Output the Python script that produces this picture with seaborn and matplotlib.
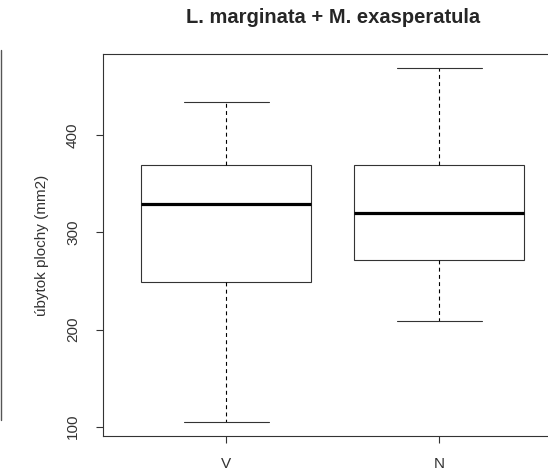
import pandas as pd
import numpy as np
import seaborn as sns
import matplotlib.pyplot as plt
from matplotlib.lines import Line2D

# five-number summaries (min, Q1, median, Q3, max)
groups = ['V', 'N']
values_V = [105, 249, 329, 369, 434]
values_N = [209, 272, 320, 369, 469]
y_ticks = [100, 200, 300, 400]

df = pd.DataFrame({
    'skupina': ['V'] * len(values_V) + ['N'] * len(values_N),
    'ubytok': values_V + values_N,
})

sns.set_style('white')
plt.rcParams['font.family'] = ['Liberation Sans', 'DejaVu Sans']

fig = plt.figure(figsize=(5.48, 4.74), dpi=100)
ax = fig.add_axes([103 / 548, 1 - 436 / 474, 459.5 / 548, (436 - 54) / 474])

line_col = '#333333'
sns.boxplot(data=df, x='skupina', y='ubytok', order=groups, ax=ax,
            width=0.8, whis=(0, 100), color='white', linecolor=line_col,
            linewidth=0.8,
            medianprops={'linewidth': 2.3, 'color': 'black'},
            whiskerprops={'linestyle': (0, (3.5, 3)), 'color': 'black'},
            capprops={'color': line_col})

ax.set_xlim(-0.58, 1.58)
ax.set_ylim(90.4, 483.6)
ax.set_yticks(y_ticks)
ax.set_yticklabels([str(t) for t in y_ticks], rotation=90, va='center')
ax.tick_params(axis='both', length=5, width=0.8, color=line_col,
               labelsize=11, labelcolor='#333333', left=True, bottom=True)
ax.tick_params(axis='y', pad=11.5)
ax.tick_params(axis='x', pad=10)
for side in ['left', 'bottom', 'top', 'right']:
    ax.spines[side].set_visible(True)
    ax.spines[side].set_color(line_col)
    ax.spines[side].set_linewidth(0.8)

ax.set_xlabel('')
ax.set_ylabel('úbytok plochy (mm2)', fontsize=11, color='#333333', labelpad=12.5)
ax.set_title('L. marginata + M. exasperatula', fontsize=14.5, fontweight='bold',
             pad=22)

# thin dark edge seen at the left border of the reference image
fig.add_artist(Line2D([0.001, 0.001], [1 - 50 / 474, 1 - 420 / 474],
                      transform=fig.transFigure, color='#555555', linewidth=1))

fig.savefig('out.png', dpi=100)
